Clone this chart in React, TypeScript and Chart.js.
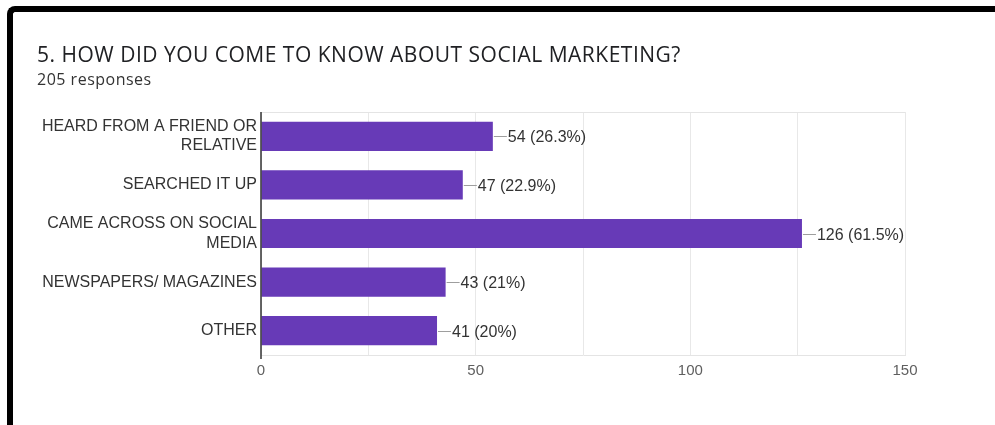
import React, { useEffect, useRef } from "react";
import { Chart, registerables } from "chart.js";

Chart.register(...registerables);

const title = "5. HOW DID YOU COME TO KNOW ABOUT SOCIAL MARKETING?";
const subtitle = "205 responses";
const categories: (string | string[])[] = [
  ["HEARD FROM A FRIEND OR", "RELATIVE"],
  "SEARCHED IT UP",
  ["CAME ACROSS ON SOCIAL", "MEDIA"],
  "NEWSPAPERS/ MAGAZINES",
  "OTHER",
];
const counts = [54, 47, 126, 43, 41];
const percents = ["26.3%", "22.9%", "61.5%", "21%", "20%"];
const xMin = 0;
const xMax = 150;
const gridStep = 25;
const labelStep = 50;

const BAR = "#673ab7";
const FONT = "'Liberation Sans', Arial, sans-serif";

const valueLabels = {
  id: "valueLabels",
  afterDatasetsDraw(chart: any) {
    const ctx = chart.ctx;
    const meta = chart.getDatasetMeta(0);
    ctx.save();
    meta.data.forEach((bar: any, i: number) => {
      const x = bar.x;
      const y = Math.round(bar.y) + 0.5;
      ctx.strokeStyle = "#9e9e9e";
      ctx.lineWidth = 1;
      ctx.beginPath();
      ctx.moveTo(x + 1, y);
      ctx.lineTo(x + 14, y);
      ctx.stroke();
      ctx.fillStyle = "#333333";
      ctx.font = `16px ${FONT}`;
      ctx.textBaseline = "middle";
      ctx.textAlign = "left";
      ctx.fillText(`${counts[i]} (${percents[i]})`, x + 15, y + 1);
    });
    ctx.restore();
  },
};

const frame = {
  id: "frame",
  beforeDatasetsDraw(chart: any) {
    const { ctx, chartArea } = chart;
    ctx.save();
    ctx.strokeStyle = "#e4e4e4";
    ctx.lineWidth = 1;
    ctx.beginPath();
    ctx.moveTo(chartArea.left, chartArea.top + 0.5);
    ctx.lineTo(chartArea.right, chartArea.top + 0.5);
    ctx.stroke();
    ctx.restore();
  },
  afterDatasetsDraw(chart: any) {
    const { ctx, chartArea } = chart;
    ctx.save();
    ctx.strokeStyle = "#333333";
    ctx.lineWidth = 1.5;
    ctx.beginPath();
    ctx.moveTo(chartArea.left, chartArea.top);
    ctx.lineTo(chartArea.left, chartArea.bottom + 4);
    ctx.stroke();
    ctx.restore();
  },
};

export default function App() {
  const ref = useRef<HTMLCanvasElement>(null);

  useEffect(() => {
    if (!ref.current) return;
    const chart = new Chart(ref.current, {
      type: "bar",
      data: {
        labels: categories,
        datasets: [
          {
            data: counts,
            backgroundColor: BAR,
            borderWidth: 0,
            categoryPercentage: 1,
            barPercentage: 0.6,
          },
        ],
      },
      options: {
        indexAxis: "y",
        animation: false,
        responsive: false,
        layout: { padding: { top: 112, right: 90, left: 0, bottom: 0 } },
        plugins: {
          legend: { display: false },
          tooltip: { enabled: false },
          title: { display: false },
        },
        scales: {
          x: {
            min: xMin,
            max: xMax,
            afterFit(scale: any) {
              scale.height = 70;
            },
            ticks: {
              stepSize: gridStep,
              autoSkip: false,
              maxRotation: 0,
              padding: 7,
              color: "#5f5f5f",
              font: { family: FONT, size: 15 },
              callback: (v: any) => (Number(v) % labelStep === 0 ? String(v) : ""),
            },
            grid: { color: "#e8e8e8", drawTicks: false },
            border: { display: true, color: "#e4e4e4" },
          },
          y: {
            afterFit(scale: any) {
              scale.width = 261;
            },
            ticks: {
              padding: 4,
              color: "#333333",
              font: { family: FONT, size: 16, lineHeight: 1.2 },
            },
            grid: { display: false, drawTicks: false },
            border: { display: false },
          },
        },
      },
      plugins: [frame, valueLabels],
    });
    return () => chart.destroy();
  }, []);

  return (
    <div
      style={{
        position: "absolute",
        left: 0,
        top: 0,
        width: 995,
        height: 425,
        background: "#ffffff",
        overflow: "hidden",
      }}
    >
      <canvas
        ref={ref}
        width={995}
        height={425}
        style={{ position: "absolute", left: 0, top: 0, width: 995, height: 425 }}
      />
      <div
        style={{
          position: "absolute",
          left: 37,
          top: 40,
          fontFamily: "'Open Sans', Roboto, sans-serif",
          fontSize: 21,
          letterSpacing: "0.5px",
          color: "#202124",
          whiteSpace: "nowrap",
          lineHeight: "28px",
        }}
      >
        {title}
      </div>
      <div
        style={{
          position: "absolute",
          left: 37,
          top: 68,
          fontFamily: "'Open Sans', Roboto, sans-serif",
          fontSize: 16,
          letterSpacing: "0.5px",
          color: "#333333",
          whiteSpace: "nowrap",
          lineHeight: "22px",
        }}
      >
        {subtitle}
      </div>
      <div
        style={{
          position: "absolute",
          left: 7,
          top: 6,
          width: 1100,
          height: 500,
          borderTop: "6px solid #000",
          borderLeft: "6px solid #000",
          borderTopLeftRadius: 8,
          boxSizing: "border-box",
          pointerEvents: "none",
        }}
      />
    </div>
  );
}
